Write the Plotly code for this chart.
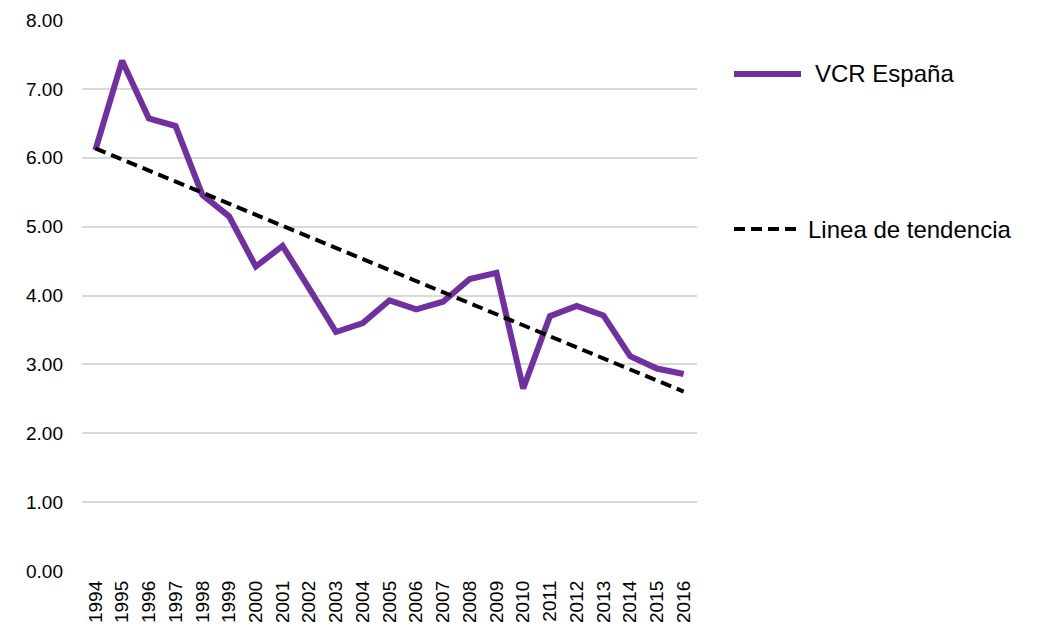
import numpy as np
import plotly.graph_objects as go

years = [str(y) for y in range(1994, 2017)]
vcr = [6.11, 7.41, 6.57, 6.46, 5.46, 5.15, 4.42, 4.72, 4.10, 3.47, 3.60, 3.93,
       3.80, 3.91, 4.24, 4.33, 2.65, 3.70, 3.85, 3.71, 3.12, 2.94, 2.86]
y_ticks = [0, 1, 2, 3, 4, 5, 6, 7, 8]
y_tick_labels = ["%.2f" % v for v in y_ticks]
series_name = "VCR España"
trend_name = "Linea de tendencia"

# Linear trend line fitted to the series (as in the original chart)
idx = np.arange(len(vcr))
slope, intercept = np.polyfit(idx, vcr, 1)
trend = list(intercept + slope * idx)

PURPLE = "#7030A0"
FONT = "Liberation Sans, Arial, sans-serif"

fig = go.Figure()
fig.add_trace(go.Scatter(x=years, y=vcr, mode="lines", name=series_name,
                         line=dict(color=PURPLE, width=6), showlegend=False))
fig.add_trace(go.Scatter(x=years, y=trend, mode="lines", name=trend_name,
                         line=dict(color="black", width=4, dash="11px,6px"),
                         showlegend=False))

OFF = 8  # page body margin
W, H = 1038 - 2 * OFF, 632 - 2 * OFF
L, T = 82 - OFF, 20 - OFF
R = W - (697 - OFF)
B = H - (571 - OFF)
pw, ph = W - L - R, H - T - B

def px(x):
    return (x - OFF - L) / pw

def py(y):
    return (H - B - (y - OFF)) / ph

# legend drawn manually
fig.add_shape(type="line", xref="paper", yref="paper",
              x0=px(734), x1=px(801), y0=py(74), y1=py(74),
              line=dict(color=PURPLE, width=6))
fig.add_annotation(xref="paper", yref="paper", x=px(813), y=py(74),
                   text=series_name, showarrow=False, xanchor="left",
                   yanchor="middle", font=dict(family=FONT, size=24, color="#000"))
fig.add_shape(type="line", xref="paper", yref="paper",
              x0=px(734), x1=px(801), y0=py(229), y1=py(229),
              line=dict(color="black", width=4, dash="11px,6px"))
fig.add_annotation(xref="paper", yref="paper", x=px(806), y=py(229),
                   text=trend_name, showarrow=False, xanchor="left",
                   yanchor="middle", font=dict(family=FONT, size=24, color="#000"))

fig.update_layout(
    width=W, height=H,
    margin=dict(l=L, r=R, t=T, b=B, pad=0),
    paper_bgcolor="white", plot_bgcolor="white",
    font=dict(family=FONT, size=19, color="#000"),
    showlegend=False,
)
fig.update_xaxes(type="category", range=[-0.5, len(years) - 0.5],
                 tickangle=-90, showgrid=False, zeroline=False, showline=False,
                 ticks="", ticklabelstandoff=5, tickfont=dict(size=19),
                 automargin=False)
fig.update_yaxes(range=[0, 8], tickvals=y_ticks, ticktext=y_tick_labels,
                 showgrid=True, gridcolor="#d9d9d9", gridwidth=1.5,
                 zeroline=False, showline=False, ticks="",
                 ticklabelstandoff=18, tickfont=dict(size=19), automargin=False)

fig.write_html("out.html")
